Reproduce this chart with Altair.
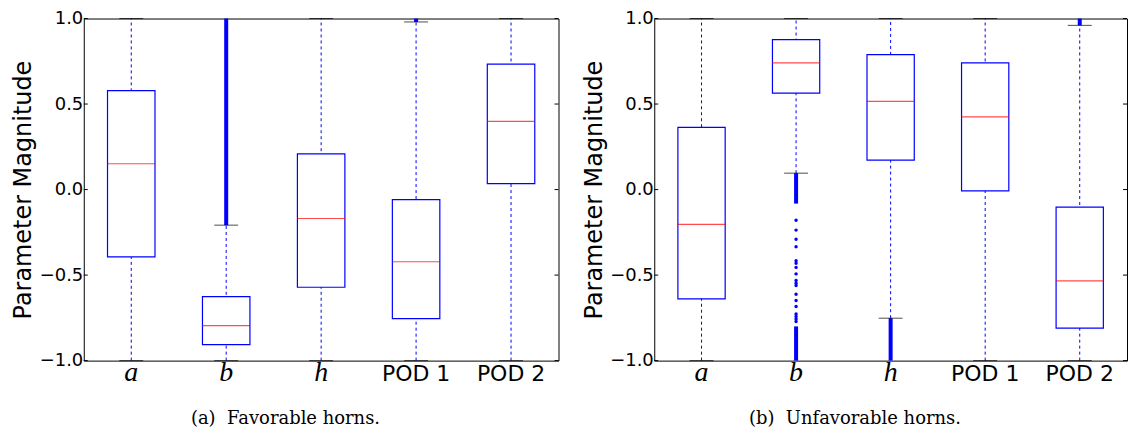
import altair as alt
import pandas as pd

cats = ["a", "b", "h", "POD 1", "POD 2"]
yticks = [-1.0, -0.5, 0.0, 0.5, 1.0]

# (a) Favorable horns
fav_q1 = [-0.394, -0.907, -0.571, -0.754, 0.035]
fav_q3 = [0.578, -0.626, 0.209, -0.059, 0.733]
fav_med = [0.151, -0.796, -0.169, -0.422, 0.399]
fav_wlo = [-1.0, -1.0, -1.0, -1.0, -1.0]
fav_whi = [1.0, -0.208, 1.0, 0.980, 1.0]
fav_dense_cat = ["b", "POD 1"]
fav_dense_lo = [-0.208, 0.980]
fav_dense_hi = [1.0, 1.0]
fav_pts_cat = []
fav_pts_val = []

# (b) Unfavorable horns
unf_q1 = [-0.639, 0.564, 0.172, -0.008, -0.810]
unf_q3 = [0.364, 0.877, 0.789, 0.741, -0.103]
unf_med = [-0.204, 0.741, 0.516, 0.425, -0.534]
unf_wlo = [-1.0, 0.096, -0.752, -1.0, -1.0]
unf_whi = [1.0, 1.0, 1.0, 1.0, 0.960]
unf_dense_cat = ["b", "b", "h", "POD 2"]
unf_dense_lo = [-0.082, -1.0, -1.0, 0.960]
unf_dense_hi = [0.096, -0.80, -0.752, 1.0]
unf_pts_cat = ["b"] * 18
unf_pts_val = [-0.179, -0.237, -0.290, -0.334, -0.416, -0.431, -0.455, -0.493,
               -0.532, -0.548, -0.561, -0.612, -0.649, -0.684, -0.728, -0.742,
               -0.757, -0.771]

BLUE = "#0000ff"
RED = "#ff0000"
W_LEFT = 476
W_RIGHT = 474
H = 343

serif_test = "indexof(['a','b','h'], datum.value) >= 0"


def panel(q1, q3, med, wlo, whi, dcat, dlo, dhi, pcat, pval, caption, width):
    box_df = pd.DataFrame({"cat": cats, "q1": q1, "q3": q3, "med": med,
                           "wlo": wlo, "whi": whi})
    dense_df = pd.DataFrame({"cat": dcat, "lo": dlo, "hi": dhi})
    pts_df = pd.DataFrame({"cat": pcat, "v": pval})
    tick_df = pd.DataFrame({"v": yticks})

    xscale = alt.Scale(type="band", domain=cats, paddingInner=0, paddingOuter=0)
    xaxis = alt.Axis(
        title=None, labelAngle=0, ticks=False, domain=False,
        labelPadding=20, labelBaseline="alphabetic", labelColor="black",
        labelFont={"condition": {"test": serif_test, "value": "Liberation Serif"},
                   "value": "DejaVu Sans"},
        labelFontStyle={"condition": {"test": serif_test, "value": "italic"},
                        "value": "normal"},
        labelFontSize={"condition": {"test": serif_test, "value": 28},
                       "value": 22},
    )
    yscale = alt.Scale(domain=[-1, 1], nice=False, zero=False)
    yaxis = alt.Axis(
        title="Parameter Magnitude", values=yticks, grid=False,
        labelExpr="replace(format(datum.value, '.1f'), '-', '\u2212')",
        ticks=False, labelPadding=1, labelFont="DejaVu Sans", labelFontSize=18,
        labelColor="black", titleFont="DejaVu Sans", titleFontSize=24,
        titleFontWeight="normal", titleColor="black", titlePadding=3,
        minExtent=45, maxExtent=45, domain=False,
    )

    def X():
        return alt.X("cat:N", scale=xscale, axis=xaxis)

    def Y(field):
        return alt.Y(field, type="quantitative", scale=yscale, axis=yaxis)

    whisk = alt.Chart(box_df).mark_rule(
        color=BLUE, strokeDash=[3, 3], strokeWidth=1
    ).encode(x=X(), y=Y("wlo"), y2="whi")

    box = alt.Chart(box_df).mark_bar(
        width=alt.RelativeBandSize(0.5), fill="white", stroke=BLUE, strokeWidth=1.2
    ).encode(x=X(), y=Y("q1"), y2="q3")

    medl = alt.Chart(box_df).mark_tick(
        color=RED, size=48, thickness=1.2
    ).encode(x=X(), y=Y("med"))

    cap_lo = alt.Chart(box_df).mark_tick(
        color="black", size=24, thickness=1
    ).encode(x=X(), y=Y("wlo"))
    cap_hi = alt.Chart(box_df).mark_tick(
        color="black", size=24, thickness=1
    ).encode(x=X(), y=Y("whi"))

    dense = alt.Chart(dense_df).mark_rule(
        color=BLUE, strokeWidth=4, strokeCap="butt"
    ).encode(x=X(), y=Y("lo"), y2="hi")

    pts = alt.Chart(pts_df).mark_circle(
        color=BLUE, size=12, opacity=1
    ).encode(x=X(), y=Y("v"))

    tick_l = alt.Chart(tick_df).mark_rule(color="black", strokeWidth=1).encode(
        y=Y("v"), x=alt.value(0), x2=alt.value(4))
    tick_r = alt.Chart(tick_df).mark_rule(color="black", strokeWidth=1).encode(
        y=Y("v"), x=alt.value(width - 4), x2=alt.value(width))

    layers = [whisk, box, medl, dense, cap_lo, cap_hi, tick_l, tick_r]
    if len(pval) > 0:
        layers.append(pts)

    return alt.layer(*layers).properties(
        width=width, height=H,
        title=alt.TitleParams(
            caption, orient="bottom", font="DejaVu Serif", fontSize=18,
            fontWeight="normal", color="black", offset=24, anchor="middle",
            frame="bounds"),
    )


left = panel(fav_q1, fav_q3, fav_med, fav_wlo, fav_whi, fav_dense_cat,
             fav_dense_lo, fav_dense_hi, fav_pts_cat, fav_pts_val,
             "(a)\u00a0 Favorable horns.", W_LEFT)
right = panel(unf_q1, unf_q3, unf_med, unf_wlo, unf_whi, unf_dense_cat,
              unf_dense_lo, unf_dense_hi, unf_pts_cat, unf_pts_val,
              "(b)\u00a0 Unfavorable horns.", W_RIGHT)

chart = alt.hconcat(left, right, spacing=22).properties(
    padding={"left": 11, "top": 8, "right": 0, "bottom": 0},
    background="white",
).configure_view(stroke="black", strokeWidth=1)

chart.save("out.html", embed_options={"renderer": "svg", "actions": False})
